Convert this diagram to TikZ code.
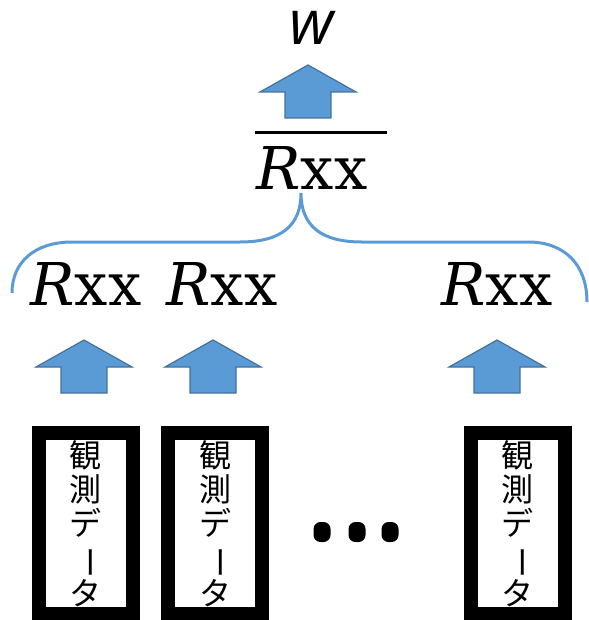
\documentclass[tikz,border=0pt]{standalone}
\usepackage{fontspec}
\usepackage{graphicx}
\newfontfamily\cjk{Noto Sans CJK JP}
\newfontfamily\wfont{Open Sans}
\newfontfamily\rfont{DejaVu Serif}
\usetikzlibrary{shapes.geometric}
\definecolor{arrowfill}{HTML}{5B9BD5}
\definecolor{arrowline}{HTML}{41719C}
\tikzset{
  rxx/.style={anchor=base, inner sep=0pt, font=\rfont\fontsize{59}{66}\selectfont},
  databox/.style={draw=black, line width=14pt, fill=white, minimum width=94pt, minimum height=181pt, inner sep=0pt,
    align=center, font=\cjk\fontsize{32}{34}\selectfont},
  dot/.style={rounded corners=7pt, fill=black, minimum width=17pt, minimum height=20pt, inner sep=0pt},
  pics/uparrow/.style={code={
    \draw[fill=arrowfill, draw=arrowline, line width=1.2pt, line join=miter]
      (0,0) -- (48,27) -- (23,27) -- (23,53) -- (-23,53) -- (-23,27) -- (-48,27) -- cycle;
  }}
}
\newcommand{\obsdata}{観\\測\\デ\\\rotatebox[origin=c]{-90}{ー}\\タ}
\begin{document}
\begin{tikzpicture}[x=1pt,y=-1pt]
\useasboundingbox (0,0) rectangle (588,620);
% top
\node[anchor=base, inner sep=0pt, font=\wfont\itshape\fontsize{62}{70}\selectfont] (w) at (312,45) {w};
\pic at (308,65) {uparrow};
\node[rxx] (top) at (312,190) {\textit{R}xx};
\coordinate (olL) at (255,133);
\coordinate (olR) at (387,133);
\draw[line width=3pt] (olL) -- (olR);
% brace
\coordinate (bL) at (12,293);
\coordinate (bP) at (301,193);
\coordinate (bR) at (587,302);
\draw[arrowfill, line width=3pt]
  (bL) .. controls (12,262) and (35,242) .. (72,242) -- (240,242)
  .. controls (282,242) and (301,225) .. (bP)
  .. controls (301,225) and (320,242) .. (362,242) -- (528,242)
  .. controls (565,242) and (587,265) .. (bR);
% lower Rxx
\node[rxx] (r1) at (86,305) {\textit{R}xx};
\node[rxx] (r2) at (222,305) {\textit{R}xx};
\node[rxx] (r3) at (497,305) {\textit{R}xx};
% arrows
\pic at (84,340) {uparrow};
\pic at (213,340) {uparrow};
\pic at (497,340) {uparrow};
% boxes
\node[databox] (d1) at (85.5,523.5) {\obsdata};
\node[databox] (d2) at (215,523.5) {\obsdata};
\node[databox] (d3) at (517.5,523.5) {\obsdata};
% dots
\node[dot] (e1) at (322,532) {};
\node[dot] (e2) at (357,532) {};
\node[dot] (e3) at (390,532) {};
\end{tikzpicture}
\end{document}
